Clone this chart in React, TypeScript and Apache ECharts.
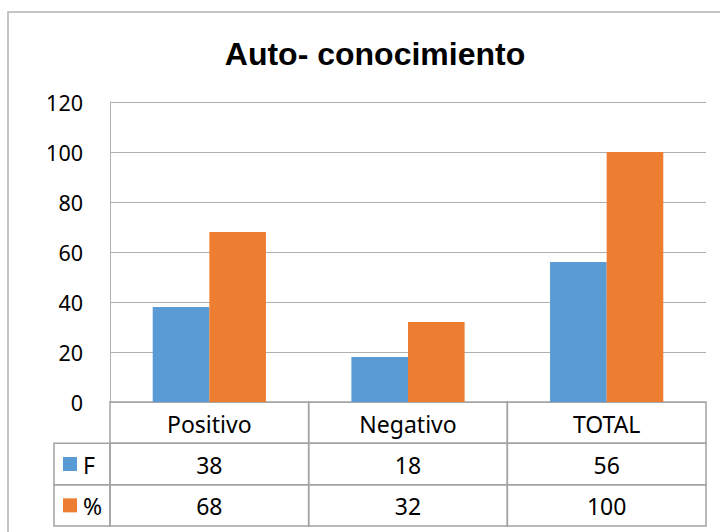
import React, { useEffect, useRef } from "react";
import * as echarts from "echarts";

const categories = ["Positivo", "Negativo", "TOTAL"];
const seriesNames = ["F", "%"];
const fValues = [38, 18, 56];
const pctValues = [68, 32, 100];
const yMin = 0;
const yMax = 120;
const yInterval = 20;
const titleText = "Auto- conocimiento";

const COLORS = ["#5B9BD5", "#ED7D31"];
const TABLE_LINE = "#A3A3A3";
const GRID_LINE = "#B0B0B0";
const TABLE_FONT = '23px "Noto Sans"';

export default function App() {
  const ref = useRef<HTMLDivElement>(null);

  useEffect(() => {
    if (!ref.current) return;
    const chart = echarts.init(ref.current, undefined, { renderer: "svg" });

    const rows = [categories, fValues.map(String), pctValues.map(String)];
    const tableData: any[] = [];
    rows.forEach((row, r) => {
      row.forEach((txt, i) => {
        tableData.push([i, r + 0.5, txt]);
      });
    });
    const legendData = seriesNames.map((n, k) => [0, k + 1.5, n, k]);

    const option: any = {
      animation: false,
      backgroundColor: "#ffffff",
      title: {
        text: titleText,
        left: 370,
        top: 33,
        textAlign: "center",
        textStyle: {
          fontFamily: '"Liberation Sans", Arial, sans-serif',
          fontWeight: "bold",
          fontSize: 32,
          color: "#000000",
        },
      },
      graphic: [
        {
          type: "rect",
          shape: { x: 8, y: 12, width: 760, height: 560 },
          style: { fill: "none", stroke: "#B3B3B3", lineWidth: 1.5 },
          silent: true,
          z: 0,
        },
      ],
      grid: [
        { left: 110, right: 14, top: 102, height: 300 },
        { left: 110, right: 14, top: 402, height: 124 },
      ],
      xAxis: [
        {
          type: "category",
          gridIndex: 0,
          data: categories,
          axisLabel: { show: false },
          axisTick: { show: false },
          axisLine: { show: true, lineStyle: { color: GRID_LINE } },
        },
        {
          type: "category",
          gridIndex: 1,
          data: categories,
          show: false,
        },
      ],
      yAxis: [
        {
          type: "value",
          gridIndex: 0,
          min: yMin,
          max: yMax,
          interval: yInterval,
          axisLine: { show: true, lineStyle: { color: GRID_LINE } },
          axisTick: { show: false },
          splitLine: { show: true, lineStyle: { color: GRID_LINE, width: 1.2 } },
          axisLabel: {
            margin: 27,
            color: "#000000",
            fontFamily: '"Noto Sans", sans-serif',
            fontSize: 21.5,
          },
        },
        {
          type: "value",
          gridIndex: 1,
          min: 0,
          max: 3,
          inverse: true,
          show: false,
        },
      ],
      series: [
        {
          name: seriesNames[0],
          type: "bar",
          xAxisIndex: 0,
          yAxisIndex: 0,
          data: fValues,
          itemStyle: { color: COLORS[0] },
          barGap: "0%",
          barCategoryGap: "43%",
        },
        {
          name: seriesNames[1],
          type: "bar",
          xAxisIndex: 0,
          yAxisIndex: 0,
          data: pctValues,
          itemStyle: { color: COLORS[1] },
          barGap: "0%",
          barCategoryGap: "43%",
        },
        {
          type: "custom",
          xAxisIndex: 1,
          yAxisIndex: 1,
          clip: false,
          silent: true,
          data: tableData,
          renderItem: (params: any, api: any) => {
            const c = api.coord([api.value(0), api.value(1)]);
            const sz = api.size([1, 1]);
            const w = sz[0];
            const h = sz[1];
            const txt = tableData[params.dataIndex][2];
            return {
              type: "group",
              children: [
                {
                  type: "rect",
                  shape: { x: c[0] - w / 2, y: c[1] - h / 2, width: w, height: h },
                  style: { fill: "none", stroke: TABLE_LINE, lineWidth: 1.5 },
                },
                {
                  type: "text",
                  style: {
                    text: txt,
                    x: c[0],
                    y: c[1] + 1,
                    align: "center",
                    verticalAlign: "middle",
                    font: TABLE_FONT,
                    fill: "#000000",
                  },
                },
              ],
            };
          },
        },
        {
          type: "custom",
          xAxisIndex: 1,
          yAxisIndex: 1,
          clip: false,
          silent: true,
          data: legendData,
          renderItem: (params: any, api: any) => {
            const c = api.coord([api.value(0), api.value(1)]);
            const sz = api.size([1, 1]);
            const w = sz[0];
            const h = sz[1];
            const right = c[0] - w / 2;
            const cellW = 56;
            const left = right - cellW;
            const item = legendData[params.dataIndex];
            return {
              type: "group",
              children: [
                {
                  type: "rect",
                  shape: { x: left, y: c[1] - h / 2, width: cellW, height: h },
                  style: { fill: "none", stroke: TABLE_LINE, lineWidth: 1.5 },
                },
                {
                  type: "rect",
                  shape: { x: left + 9, y: c[1] - 7, width: 14, height: 14 },
                  style: { fill: COLORS[item[3]] },
                },
                {
                  type: "text",
                  style: {
                    text: item[2],
                    x: left + 29,
                    y: c[1] + 1,
                    align: "left",
                    verticalAlign: "middle",
                    font: TABLE_FONT,
                    fill: "#000000",
                  },
                },
              ],
            };
          },
        },
      ],
    };

    chart.setOption(option);
    return () => {
      chart.dispose();
    };
  }, []);

  return (
    <div
      ref={ref}
      style={{ position: "fixed", left: 0, top: 0, width: 720, height: 532 }}
    />
  );
}
